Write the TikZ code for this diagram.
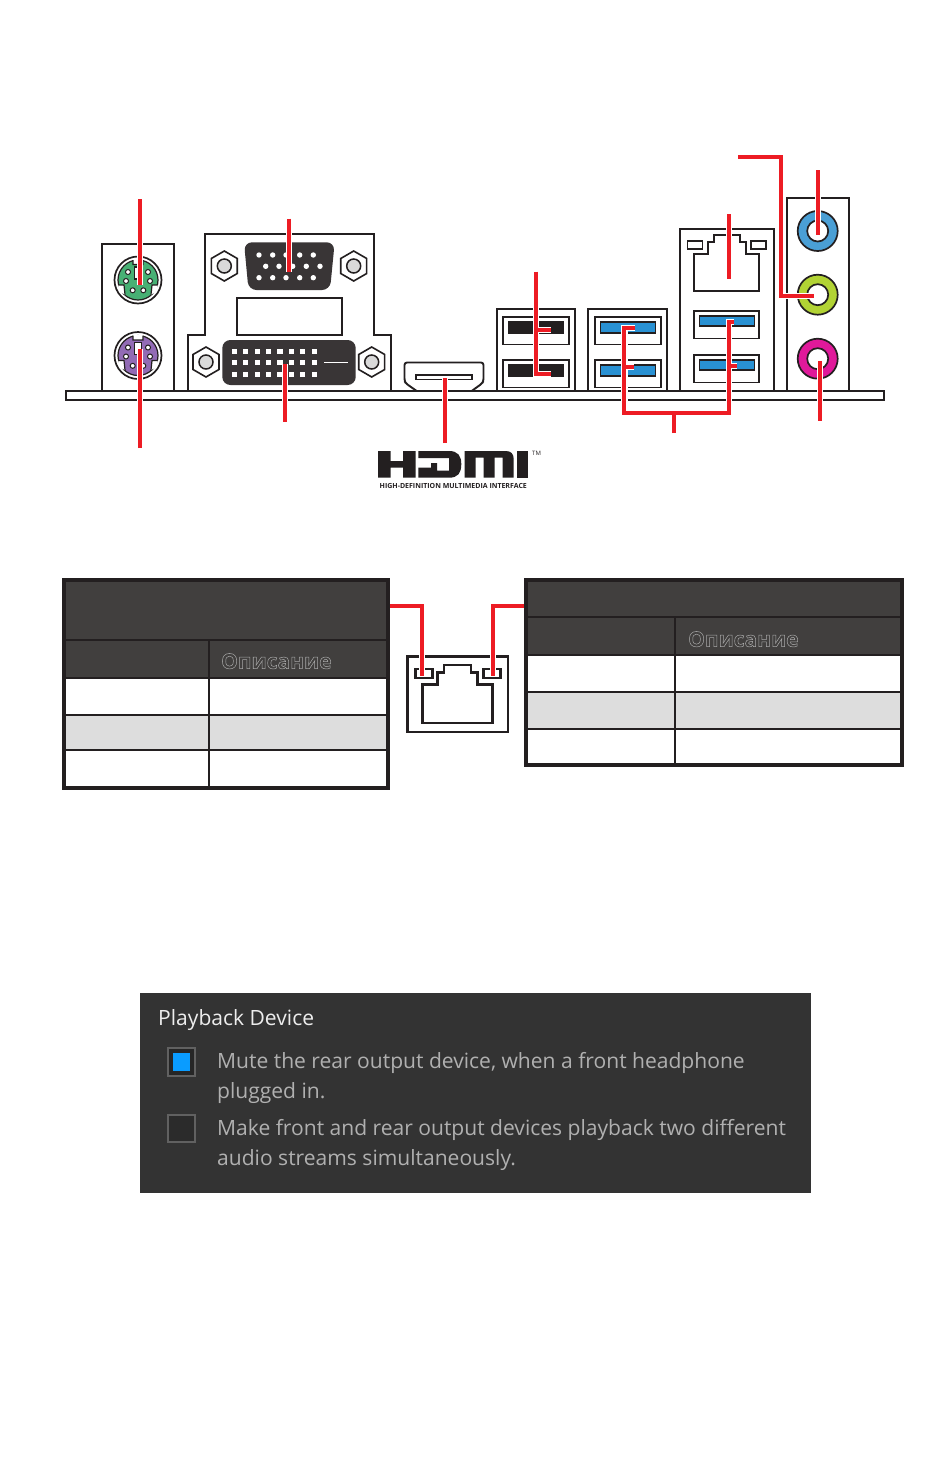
\documentclass[tikz,border=0pt]{standalone}
\usepackage{fontspec}
\setmainfont{Open Sans}
\usetikzlibrary{shapes.geometric, calc}
\definecolor{cRed}{RGB}{237,28,36}
\definecolor{cInk}{RGB}{35,31,32}
\definecolor{cHead}{RGB}{65,63,62}
\definecolor{cRow}{RGB}{221,221,221}
\definecolor{cPanel}{RGB}{51,51,51}
\definecolor{cUsb}{RGB}{41,145,211}
\definecolor{cKbd}{RGB}{71,176,116}
\definecolor{cMouse}{RGB}{146,107,181}
\definecolor{cLineIn}{RGB}{74,159,213}
\definecolor{cLineOut}{RGB}{178,211,52}
\definecolor{cMic}{RGB}{224,25,154}
\definecolor{cTick}{RGB}{10,156,255}
\newcommand{\outlined}[1]{\special{pdf:code 0.66 G 0.5 w 1 Tr}#1\special{pdf:code 0 Tr 0 G 1 w}}

\begin{document}
\begin{tikzpicture}[x=1pt, y=-1pt,
            frm/.style={draw=cInk, line width=1.9pt, fill=white},
            lead/.style={draw=cRed, line width=3.7pt},
            halo/.style={draw=white, line width=6.4pt},
            nut/.style={regular polygon, regular polygon sides=6, shape border rotate=30, draw=cInk, line width=1.6pt, fill=white, minimum size=30pt, inner sep=0pt},
            nuthole/.style={circle, draw=cInk, line width=1.5pt, fill=black!15, minimum size=14pt, inner sep=0pt},
            jack/.style={circle, draw=cInk, line width=1.7pt, minimum size=40pt, inner sep=0pt},
            hole/.style={circle, draw=cInk, line width=1.7pt, fill=white, minimum size=21pt, inner sep=0pt},
            din/.style={circle, draw=cInk, line width=1.7pt, fill=white, minimum size=47pt, inner sep=0pt},
            dinbody/.style={circle, draw=cInk, line width=1.2pt, minimum size=40pt, inner sep=0pt},
            dinpin/.style={circle, draw=cInk, line width=1pt, fill=white, minimum size=5pt, inner sep=0pt},
            vgapin/.style={circle, fill=white, minimum size=5.4pt, inner sep=0pt},
            dvipin/.style={rectangle, fill=white, minimum size=5.4pt, inner sep=0pt},
            logo/.style={fill=cInk, draw=none},
            headtxt/.style={anchor=base west, inner sep=0pt, font=\fontsize{21}{26}\bfseries\selectfont},
            paneltxt/.style={anchor=base west, inner sep=0pt, text=black!31, font=\fontsize{21.05}{25}\selectfont}]
    \useasboundingbox (0,0) rectangle (950,1467);
    \fill[white] (0,0) rectangle (950,1467);

    \draw[frm] (102,391) -- (102,244) -- (174,244) -- (174,391);
    \foreach \n/\y/\c in {kbd/280/cKbd, mouse/355.5/cMouse} {
        \node[din] (\n) at (138,\y) {};
        \node[dinbody, fill=\c] at (\n) {};
        \begin{scope}[shift={(\n)}]
            \fill[white] (-19.4,5) -- (-14,5) -- (-13,14.5) -- (-17,12.5) -- (-20,9) -- cycle (19.4,5) -- (14,5) -- (13,14.5) -- (17,12.5) -- (20,9) -- cycle (-5,-21) rectangle (5,-15.5);
            \draw[cInk, line width=1.2pt] (-19.4,5) -- (-14,5) -- (-13,14.5) (19.4,5) -- (14,5) -- (13,14.5) (-5,-20) -- (-5,-15.5) -- (5,-15.5) -- (5,-20);
            \draw[cInk, line width=1.2pt, fill=white] (-3.5,-13) rectangle (3.5,-1);
            \foreach \px/\py in {-10/-8, 10/-8, -12/1, 12/1, -5.3/10.3, 5.3/10.3} { \node[dinpin] at (\px,\py) {}; }
        \end{scope}
    }

    \draw[frm] (188,391) -- (188,335) -- (205,335) -- (205,234) -- (374,234) -- (374,335) -- (391,335) -- (391,391);
    \draw[frm] (237,298) rectangle (342,335);
    \foreach \n/\x/\y in {nuta/224.3/266, nutb/353.7/266, nutc/206/362, nutd/371.7/362} {
        \node[nut] (\n) at (\x,\y) {};
        \node[nuthole] at (\n) {};
    }
    \fill[cInk!90!white, rounded corners=8pt] (244,242.3) -- (334.7,242.3) -- (330,290) -- (248.5,290) -- cycle;
    \foreach \x in {259,272.7,286,299.7,313.3} { \node[vgapin] at (\x,255) {}; \node[vgapin] at (\x,277.7) {}; }
    \foreach \x in {265.7,279,292.7,306.3,320} { \node[vgapin] at (\x,266.3) {}; }
    \fill[cInk!90!white, rounded corners=8pt] (222.3,340) rectangle (355.7,385);
    \foreach \x in {234.3,245.7,257.3,268.7,280,291.3,302.7,314.7} {
        \foreach \y in {351.3,362.3,374.3} { \node[dvipin] at (\x,\y) {}; }
    }
    \draw[white, line width=1pt] (324,362) -- (348,362);

    \draw[frm, rounded corners=2.5pt] (416.7,391) -- (406,383.5) -- (404.5,381) -- (404.5,362.5) -- (483.5,362.5) -- (483.5,381) -- (482,383.5) -- (471.7,391);
    \draw[frm] (416,375) rectangle (472,379.5);

    \draw[frm] (497,391) -- (497,309) -- (575,309) -- (575,391);
    \draw[frm] (588,391) -- (588,309) -- (667,309) -- (667,391);
    \draw[frm] (680,391) -- (680,229) -- (774,229) -- (774,391);
    \draw[frm] (787,391) -- (787,198) -- (849,198) -- (849,391);
    \foreach \x/\c in {503/cInk, 595/cUsb} {
        \foreach \y in {317,360} {
            \draw[frm] (\x,\y) rectangle ++(66,27.5);
            \fill[\c, draw=cInk, line width=1.6pt] (\x+5.5,\y+4.8) rectangle ++(55,11);
        }
    }
    \foreach \y in {311,355} {
        \draw[frm] (694,\y) rectangle (759,\y+27.5);
        \fill[cUsb, draw=cInk, line width=1.6pt] (699.5,\y+5.2) rectangle (754.5,\y+15);
    }
    \draw[frm] (694,254.3) -- (707.7,254.3) -- (707.7,242.3) -- (714.3,242.3) -- (714.3,235) -- (740,235) -- (740,242.3) -- (745.7,242.3) -- (745.7,254.3) -- (759,254.3) -- (759,291) -- (694,291) -- cycle;
    \draw[frm] (687.5,241) rectangle (702.5,249.3);
    \draw[frm] (751,241) rectangle (766.3,249.3);

    \foreach \n/\y/\c in {linein/231/cLineIn, lineout/294.7/cLineOut, micin/358.7/cMic} {
        \node[jack, fill=\c] (\n) at (817.7,\y) {};
        \node[hole] at (\n) {};
    }
    \draw[frm] (66,391) rectangle (884,400);

    \fill[logo] (378,451) rectangle (390.7,477.7) (403,451) rectangle (415.7,477.7) (390.7,461) rectangle (403,467.7);
    \fill[logo] (418.3,451) -- (449,451) .. controls (458,451) and (461.3,456) .. (461.3,464) .. controls (461.3,473) and (458,477.7) .. (449,477.7) -- (418.3,477.7) -- (418.3,467.7) -- (431,467.7) -- (431,463) -- (437,463) -- (437,470.5) -- (449,470.5) -- (449,458) -- (418.3,458) -- cycle;
    \fill[logo] (464.7,477.7) -- (464.7,451) -- (506,451) .. controls (511,451) and (513.7,454) .. (513.7,459) -- (513.7,477.7) -- (502.7,477.7) -- (502.7,457.5) -- (494.7,457.5) -- (494.7,477.7) -- (483.7,477.7) -- (483.7,457.5) -- (475.7,457.5) -- (475.7,477.7) -- cycle;
    \fill[logo] (517,451) rectangle (528,477.7);
    \node[anchor=base west, inner sep=0pt, font=\fontsize{7}{8}\bfseries\selectfont, text=cInk] (hdmitag) at (379.5,488.7) {HIGH-DEFINITION MULTIMEDIA INTERFACE};
    \node[anchor=base west, inner sep=0pt, font=\fontsize{6}{8}\selectfont, text=cInk] (hdmitm) at (532,455.5) {TM};

    \coordinate (kbdtop) at (140,199);      \coordinate (kbdend) at (140,285);
    \coordinate (mousebot) at (140,448);    \coordinate (mouseend) at (140,349);
    \coordinate (vgatop) at (289,218.7);    \coordinate (vgaend) at (289,271.7);
    \coordinate (dvibot) at (285,421.7);    \coordinate (dviend) at (285,364.3);
    \coordinate (hdmibot) at (445,443);     \coordinate (hdmiend) at (445,378);
    \coordinate (usbtop) at (536,271.7);    \coordinate (usbcor) at (536,374.3);
    \coordinate (usbend) at (550.7,374.3);  \coordinate (usbtee) at (536,330);
    \coordinate (usbstub) at (550.7,330);
    \coordinate (lantop) at (729,214.3);    \coordinate (lanend) at (729,279.3);
    \coordinate (inend) at (818,235);       \coordinate (intop) at (818,170);
    \coordinate (outa) at (738.3,157.3);    \coordinate (outb) at (781,157.3);
    \coordinate (outc) at (781,295.7);      \coordinate (outd) at (814,295.7);
    \coordinate (micbot) at (820,420.7);    \coordinate (micend) at (820,361);
    \coordinate (sstem) at (673.7,433);     \coordinate (sjoin) at (673.7,412.7);
    \coordinate (sla) at (635,327.7);       \coordinate (slb) at (624.3,327.7);
    \coordinate (slc) at (624.3,412.7);     \coordinate (sld) at (728.7,412.7);
    \coordinate (sle) at (728.7,321.7);     \coordinate (slf) at (734,321.7);
    \coordinate (stl) at (624.3,366.7);     \coordinate (stls) at (633.7,366.7);
    \coordinate (str) at (728.7,366);       \coordinate (strs) at (736.7,366);
    \foreach \st in {halo, lead} {
        \draw[\st] (kbdtop) -- (kbdend);
        \draw[\st] (mousebot) -- (mouseend);
        \draw[\st] (vgatop) -- (vgaend);
        \draw[\st] (dvibot) -- (dviend);
        \draw[\st] (hdmibot) -- (hdmiend);
        \draw[\st] (usbtop) -- (usbcor) -- (usbend);
        \draw[\st] (usbtee) -- (usbstub);
        \draw[\st] (lantop) -- (lanend);
        \draw[\st] (intop) -- (inend);
        \draw[\st] (outa) -- (outb) -- (outc) -- (outd);
        \draw[\st] (micbot) -- (micend);
        \draw[\st] (sstem) -- (sjoin);
        \draw[\st] (sla) -- (slb) -- (slc) -- (sld) -- (sle) -- (slf);
        \draw[\st] (stl) -- (stls);
        \draw[\st] (str) -- (strs);
    }

    \fill[white] (64,580) rectangle (388,788);
    \fill[cHead] (64,580) rectangle (388,678);
    \fill[cRow] (64,714.7) rectangle (388,750.3);
    \draw[cInk, line width=1.8pt] (64,639.7) -- (388,639.7) (64,678) -- (388,678) (64,714.7) -- (388,714.7) (64,750.3) -- (388,750.3) (209,639.7) -- (209,788);
    \draw[cInk, line width=3.4pt] (64,580) rectangle (388,788);
    \node[headtxt] (leftdesc) at (221,668.7) {\outlined{Описание}};

    \fill[white] (526,580) rectangle (902,765);
    \fill[cHead] (526,580) rectangle (902,655);
    \fill[cRow] (526,691.7) rectangle (902,728.7);
    \draw[cInk, line width=1.8pt] (526,616.7) -- (902,616.7) (526,655) -- (902,655) (526,691.7) -- (902,691.7) (526,728.7) -- (902,728.7) (675,616.7) -- (675,765);
    \draw[cInk, line width=3.4pt] (526,580) rectangle (902,765);
    \node[headtxt] (rightdesc) at (688,646.7) {\outlined{Описание}};

    \draw[cInk, line width=2.6pt] (407.5,656.5) rectangle (507.8,732);
    \draw[cInk, line width=2.6pt] (422.7,684.3) -- (437.3,684.3) -- (437.3,672.3) -- (444,672.3) -- (444,665) -- (471,665) -- (471,672.3) -- (477.7,672.3) -- (477.7,684.3) -- (492.7,684.3) -- (492.7,723) -- (422.7,723) -- cycle;
    \draw[cInk, line width=2.6pt] (415.5,669) rectangle (432.5,678);
    \draw[cInk, line width=2.6pt] (483.5,669) rectangle (500.5,678);
    \coordinate (leftedge) at (390,605.7);   \coordinate (leftcor) at (422,605.7);
    \coordinate (leftled) at (422,676);      \coordinate (rightedge) at (524,605.7);
    \coordinate (rightcor) at (492.7,605.7); \coordinate (rightled) at (492.7,676);
    \foreach \st in {halo, lead} {
        \draw[\st] (leftedge) -- (leftcor) -- (leftled);
        \draw[\st] (rightedge) -- (rightcor) -- (rightled);
    }

    \fill[cPanel] (140,993) rectangle (811,1193);
    \node[paneltxt, text=black!7] (ptitle) at (158,1025) {Playback Device};
    \draw[black!62, line width=2pt, fill=black!85] (168.3,1048.3) rectangle (195,1075.7);
    \fill[cTick] (172.7,1052.7) rectangle (190,1070.7);
    \draw[black!62, line width=2pt, fill=black!83] (168.3,1115.3) rectangle (195,1141.7);
    \node[paneltxt] (pmute) at (217,1068.7) {Mute the rear output device, when a front headphone};
    \node[paneltxt] (pplug) at (217,1098) {plugged in.};
    \node[paneltxt] (pmake) at (217,1135) {Make front and rear output devices playback two different};
    \node[paneltxt] (paudio) at (217,1165) {audio streams simultaneously.};
\end{tikzpicture}
\end{document}
